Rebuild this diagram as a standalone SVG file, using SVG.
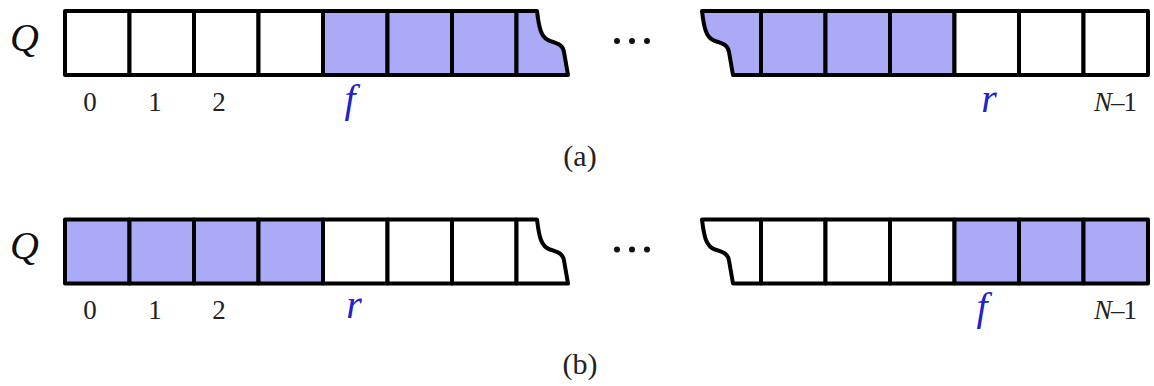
<svg xmlns="http://www.w3.org/2000/svg" width="1154" height="386" viewBox="0 0 1154 386">
<style>
.c{stroke:#000;stroke-width:4;stroke-linejoin:round}
.s{fill:#aaaaf6}
.w{fill:#fff}
text{font-family:'Liberation Serif','Times New Roman',serif}
.idx{font-size:27px;fill:#222;text-anchor:middle}
.var{font-style:italic;font-size:40px;fill:#2222cc;text-anchor:middle}
.q{font-style:italic;font-size:40px;fill:#111}
.cap{font-size:30px;fill:#222;text-anchor:middle}
.dot{fill:#111}
</style>
<rect width="1154" height="386" fill="#fff"/>
<g id="rowA" transform="translate(0,11)">
  <g id="a-left">
    <rect class="c w" x="65" y="0" width="64.5" height="64"/>
    <rect class="c w" x="129.5" y="0" width="64.5" height="64"/>
    <rect class="c w" x="194" y="0" width="64.5" height="64"/>
    <rect class="c w" x="258.5" y="0" width="64.5" height="64"/>
    <rect class="c s" x="323" y="0" width="64.5" height="64"/>
    <rect class="c s" x="387.5" y="0" width="64.5" height="64"/>
    <rect class="c s" x="452" y="0" width="64.5" height="64"/>
    <path class="c s" d="M516.5,0 L537,0 C539,17 541,27 550,30 C560,33 563,35 564,41 L568,64 L516.5,64 Z"/>
  </g>
  <g id="a-dots"><circle class="dot" cx="617" cy="30" r="3"/><circle class="dot" cx="632" cy="30" r="3"/><circle class="dot" cx="647" cy="30" r="3"/></g>
  <g id="a-right">
    <path class="c s" d="M761,0 L702,0 C704,17 706,27 715,30 C725,33 728,35 729,41 L733,64 L761,64 Z"/>
    <rect class="c s" x="761" y="0" width="64.5" height="64"/>
    <rect class="c s" x="825.5" y="0" width="64.5" height="64"/>
    <rect class="c s" x="890" y="0" width="64.5" height="64"/>
    <rect class="c w" x="954.5" y="0" width="64.5" height="64"/>
    <rect class="c w" x="1019" y="0" width="64.5" height="64"/>
    <rect class="c w" x="1083.5" y="0" width="64.5" height="64"/>
  </g>
</g>
<g id="labelsA">
  <text class="q" x="10" y="51">Q</text>
  <text class="idx" x="90" y="111">0</text>
  <text class="idx" x="155" y="111">1</text>
  <text class="idx" x="219" y="111">2</text>
  <text class="var" x="350" y="112">f</text>
  <text class="var" x="989" y="112">r</text>
  <text class="idx" x="1115" y="111" letter-spacing="-1"><tspan font-style="italic">N</tspan>–1</text>
  <text class="cap" x="580" y="166">(a)</text>
</g>
<g id="rowB" transform="translate(0,219.5)">
  <g id="b-left">
    <rect class="c s" x="65" y="0" width="64.5" height="64"/>
    <rect class="c s" x="129.5" y="0" width="64.5" height="64"/>
    <rect class="c s" x="194" y="0" width="64.5" height="64"/>
    <rect class="c s" x="258.5" y="0" width="64.5" height="64"/>
    <rect class="c w" x="323" y="0" width="64.5" height="64"/>
    <rect class="c w" x="387.5" y="0" width="64.5" height="64"/>
    <rect class="c w" x="452" y="0" width="64.5" height="64"/>
    <path class="c w" d="M516.5,0 L537,0 C539,17 541,27 550,30 C560,33 563,35 564,41 L568,64 L516.5,64 Z"/>
  </g>
  <g id="b-dots"><circle class="dot" cx="617" cy="30" r="3"/><circle class="dot" cx="632" cy="30" r="3"/><circle class="dot" cx="647" cy="30" r="3"/></g>
  <g id="b-right">
    <path class="c w" d="M761,0 L702,0 C704,17 706,27 715,30 C725,33 728,35 729,41 L733,64 L761,64 Z"/>
    <rect class="c w" x="761" y="0" width="64.5" height="64"/>
    <rect class="c w" x="825.5" y="0" width="64.5" height="64"/>
    <rect class="c w" x="890" y="0" width="64.5" height="64"/>
    <rect class="c s" x="954.5" y="0" width="64.5" height="64"/>
    <rect class="c s" x="1019" y="0" width="64.5" height="64"/>
    <rect class="c s" x="1083.5" y="0" width="64.5" height="64"/>
  </g>
</g>
<g id="labelsB">
  <text class="q" x="10" y="259">Q</text>
  <text class="idx" x="90" y="319">0</text>
  <text class="idx" x="155" y="319">1</text>
  <text class="idx" x="219" y="319">2</text>
  <text class="var" x="354" y="318">r</text>
  <text class="var" x="982" y="320">f</text>
  <text class="idx" x="1115" y="319" letter-spacing="-1"><tspan font-style="italic">N</tspan>–1</text>
  <text class="cap" x="580" y="374">(b)</text>
</g>
</svg>
